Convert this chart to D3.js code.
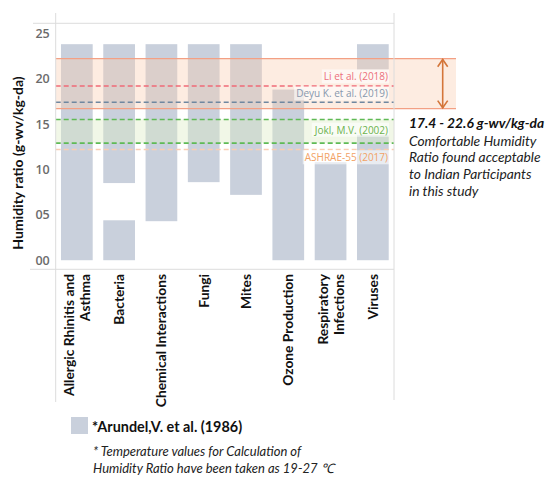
<!DOCTYPE html>
<html>
<head>
<meta charset="utf-8">
<script src="https://cdn.jsdelivr.net/npm/d3@7"></script>
<style>
body { margin: 0; background: #fff; }
svg { display: block; }
</style>
</head>
<body>
<div id="viz_area"></div>
<script>
// categories and their (rotated) tick label lines
var categories = ["Allergic Rhinitis and Asthma", "Bacteria", "Chemical Interactions", "Fungi",
                  "Mites", "Ozone Production", "Respiratory Infections", "Viruses"];
var tickLines = [["Allergic Rhinitis and", "Asthma"], ["Bacteria"], ["Chemical Interactions"], ["Fungi"],
                 ["Mites"], ["Ozone Production"], ["Respiratory", "Infections"], ["Viruses"]];

// Arundel et al. ranges (some categories have two pieces)
var segCategory = ["Allergic Rhinitis and Asthma", "Bacteria", "Bacteria", "Chemical Interactions", "Fungi",
                   "Mites", "Ozone Production", "Respiratory Infections", "Viruses", "Viruses"];
var segLow  = [0,    0,   8.5,  4.3,  8.6,  7.2,  0,    0,    0,    21.0];
var segHigh = [23.8, 4.4, 23.8, 23.8, 23.8, 23.8, 18.8, 10.8, 13.8, 23.8];

// reference studies
var refNames  = ["Li et al. (2018)", "Deyu K. et al. (2019)", "Jokl, M.V. (2002)", "ASHRAE-55 (2017)"];
var refValues = [19.2, 17.4, 15.5, 12.2];
var joklRange = [12.9, 15.5];

// comfortable band found in this study (as drawn)
var comfortRange = [16.7, 22.2];

var yTicks = [0, 5, 10, 15, 20, 25];

var w = 550, h = 483;
// plot frame (note: "top" is reserved on window, so prefixed names)
var pLeft = 55.7, pRight = 394, pTop = 23.3, pBottom = 269.3;

var svg = d3.select("#viz_area").append("svg")
    .attr("width", w)
    .attr("height", h);

var x = d3.scaleBand()
    .domain(categories)
    .range([pLeft, pRight])
    .paddingInner(0.25)
    .paddingOuter(0.125);

var y = d3.scaleLinear()
    .domain([-1.0, 26.1])
    .range([pBottom, pTop]);

var barColor = "#c9d0dc";
var calibri = "Lato, 'Open Sans', sans-serif";
var tableau = "'Open Sans', 'Noto Sans', sans-serif";

// bars
svg.selectAll("rect.bar")
    .data(segCategory)
    .enter()
    .append("rect")
    .attr("class", "bar")
    .attr("x", (d) => x(d))
    .attr("width", x.bandwidth())
    .attr("y", (d, i) => y(segHigh[i]))
    .attr("height", (d, i) => y(segLow[i]) - y(segHigh[i]))
    .style("fill", barColor);

// comfort band (orange)
var bandRight = 456;
svg.append("rect")
    .attr("x", pLeft)
    .attr("width", bandRight - pLeft)
    .attr("y", y(comfortRange[1]))
    .attr("height", y(comfortRange[0]) - y(comfortRange[1]))
    .style("fill", "#fbcdb0")
    .style("opacity", 0.38);

// jokl band (green)
svg.append("rect")
    .attr("x", pLeft)
    .attr("width", pRight - pLeft)
    .attr("y", y(joklRange[1]))
    .attr("height", y(joklRange[0]) - y(joklRange[1]))
    .style("fill", "#dcecc4")
    .style("opacity", 0.4);

comfortRange.forEach(function(v) {
    svg.append("line")
        .attr("x1", pLeft).attr("x2", bandRight)
        .attr("y1", y(v)).attr("y2", y(v))
        .style("stroke", "#f3a084")
        .style("stroke-width", 1.3);
});

// dashed reference lines
var dashed = [
    { v: refValues[0], c: "#f06b78" },
    { v: refValues[1], c: "#6f87a0" },
    { v: joklRange[1], c: "#5fba55" },
    { v: joklRange[0], c: "#5fba55" },
    { v: refValues[3], c: "#f9cdb2" }
];
svg.selectAll("line.ref")
    .data(dashed)
    .enter()
    .append("line")
    .attr("class", "ref")
    .attr("x1", pLeft).attr("x2", pRight)
    .attr("y1", (d) => y(d.v)).attr("y2", (d) => y(d.v))
    .style("stroke", (d) => d.c)
    .style("stroke-width", 1.6)
    .style("stroke-dasharray", "5,3");

// reference labels
var labelInfo = [
    { t: refNames[0], yy: y(refValues[0]) - 9, c: "#ec6f7c" },
    { t: refNames[1], yy: y(refValues[1]) - 8.3, c: "#8797ad" },
    { t: refNames[2], yy: y(refValues[2]) + 10.7, c: "#6cb24e" },
    { t: refNames[3], yy: y(refValues[3]) + 8.3, c: "#f2a266" }
];
labelInfo.forEach(function(d) {
    var g = svg.append("g");
    var bg = g.append("rect");
    var txt = g.append("text")
        .attr("x", 388)
        .attr("y", d.yy)
        .attr("dy", "0.35em")
        .attr("text-anchor", "end")
        .style("font-family", tableau)
        .style("font-size", "10px")
        .style("font-weight", "500")
        .style("fill", d.c)
        .text(d.t);
    var bb = txt.node().getBBox();
    bg.attr("x", bb.x - 2).attr("y", bb.y)
      .attr("width", bb.width + 3).attr("height", bb.height)
      .style("fill", "#fff").style("opacity", 0.6);
});

// frame lines
var frame = "#dcdcdc";
svg.append("line").attr("x1", 33).attr("x2", pRight).attr("y1", pTop).attr("y2", pTop).style("stroke", frame);
svg.append("line").attr("x1", 30).attr("x2", pRight).attr("y1", pBottom).attr("y2", pBottom).style("stroke", frame);
svg.append("line").attr("x1", pLeft).attr("x2", pLeft).attr("y1", 13).attr("y2", 402).style("stroke", frame);
svg.append("line").attr("x1", pRight).attr("x2", pRight).attr("y1", 13).attr("y2", 400).style("stroke", frame);

// y axis
var yAxis = d3.axisLeft(y)
    .tickValues(yTicks)
    .tickFormat(d3.format("02d"))
    .tickSize(0)
    .tickPadding(6);
var ya = svg.append("g")
    .attr("transform", "translate(" + pLeft + ",0)")
    .call(yAxis);
ya.select(".domain").remove();
ya.selectAll("text")
    .style("font-family", tableau)
    .style("font-size", "12.5px")
    .style("font-weight", "600")
    .style("fill", "#6b6b6b");

svg.append("text")
    .attr("transform", "translate(22.5,163) rotate(-90)")
    .attr("text-anchor", "middle")
    .style("font-family", calibri)
    .style("font-size", "14px")
    .style("font-weight", "bold")
    .style("fill", "#111")
    .text("Humidity ratio (g-wv/kg-da)");

// x labels (rotated)
var xl = svg.selectAll("g.xlab")
    .data(categories)
    .enter()
    .append("g")
    .attr("class", "xlab")
    .attr("transform", (d) => "translate(" + (x(d) + x.bandwidth() / 2) + ",274) rotate(-90)");
xl.each(function(d, i) {
    var lines = tickLines[i];
    var n = lines.length;
    d3.select(this).selectAll("text")
        .data(lines)
        .enter()
        .append("text")
        .attr("x", 0)
        .attr("y", (t, j) => (j - (n - 1) / 2) * 16 + 5)
        .attr("text-anchor", "end")
        .style("font-family", calibri)
        .style("font-size", "13.8px")
        .style("font-weight", "bold")
        .style("fill", "#111")
        .text((t) => t);
});

// arrow for the comfort band
var ax = 442.7, ya1 = y(comfortRange[1]), ya2 = y(comfortRange[0]);
var arrowC = "#d4763a";
svg.append("line").attr("x1", ax).attr("x2", ax).attr("y1", ya1 + 0.5).attr("y2", ya2 - 0.5)
    .style("stroke", arrowC).style("stroke-width", 1.6);
svg.append("path").attr("d", "M" + (ax - 5) + "," + (ya1 + 8) + "L" + ax + "," + (ya1 + 0.8) + "L" + (ax + 5) + "," + (ya1 + 8))
    .style("fill", "none").style("stroke", arrowC).style("stroke-width", 1.6);
svg.append("path").attr("d", "M" + (ax - 5) + "," + (ya2 - 8) + "L" + ax + "," + (ya2 - 0.8) + "L" + (ax + 5) + "," + (ya2 - 8))
    .style("fill", "none").style("stroke", arrowC).style("stroke-width", 1.6);

// annotation on the right
svg.append("text")
    .attr("x", 409).attr("y", 127.7)
    .style("font-family", calibri)
    .style("font-size", "13.8px")
    .style("font-weight", "bold")
    .style("font-style", "italic")
    .style("fill", "#111")
    .text("17.4 - 22.6 g-wv/kg-da");
var noteLines = ["Comfortable Humidity", "Ratio found acceptable", "to Indian Participants", "in this study"];
svg.selectAll("text.note")
    .data(noteLines)
    .enter()
    .append("text")
    .attr("class", "note")
    .attr("x", 409)
    .attr("y", (d, i) => 145.7 + i * 16.6)
    .style("font-family", calibri)
    .style("font-size", "13.8px")
    .style("font-style", "italic")
    .style("fill", "#222")
    .text((d) => d);

// legend
svg.append("rect")
    .attr("x", 71).attr("y", 417)
    .attr("width", 17).attr("height", 17)
    .style("fill", barColor);
svg.append("text")
    .attr("x", 92).attr("y", 431.5)
    .style("font-family", calibri)
    .style("font-size", "14.4px")
    .style("font-weight", "bold")
    .style("fill", "#111")
    .text("*Arundel,V. et al. (1986)");

var footLines = ["* Temperature values for Calculation of", "Humidity Ratio have been taken as 19-27 \u2103"];
svg.selectAll("text.foot")
    .data(footLines)
    .enter()
    .append("text")
    .attr("class", "foot")
    .attr("x", 93)
    .attr("y", (d, i) => 456 + i * 17)
    .style("font-family", calibri)
    .style("font-size", "13px")
    .style("font-style", "italic")
    .style("fill", "#222")
    .text((d) => d);
</script>
</body>
</html>
